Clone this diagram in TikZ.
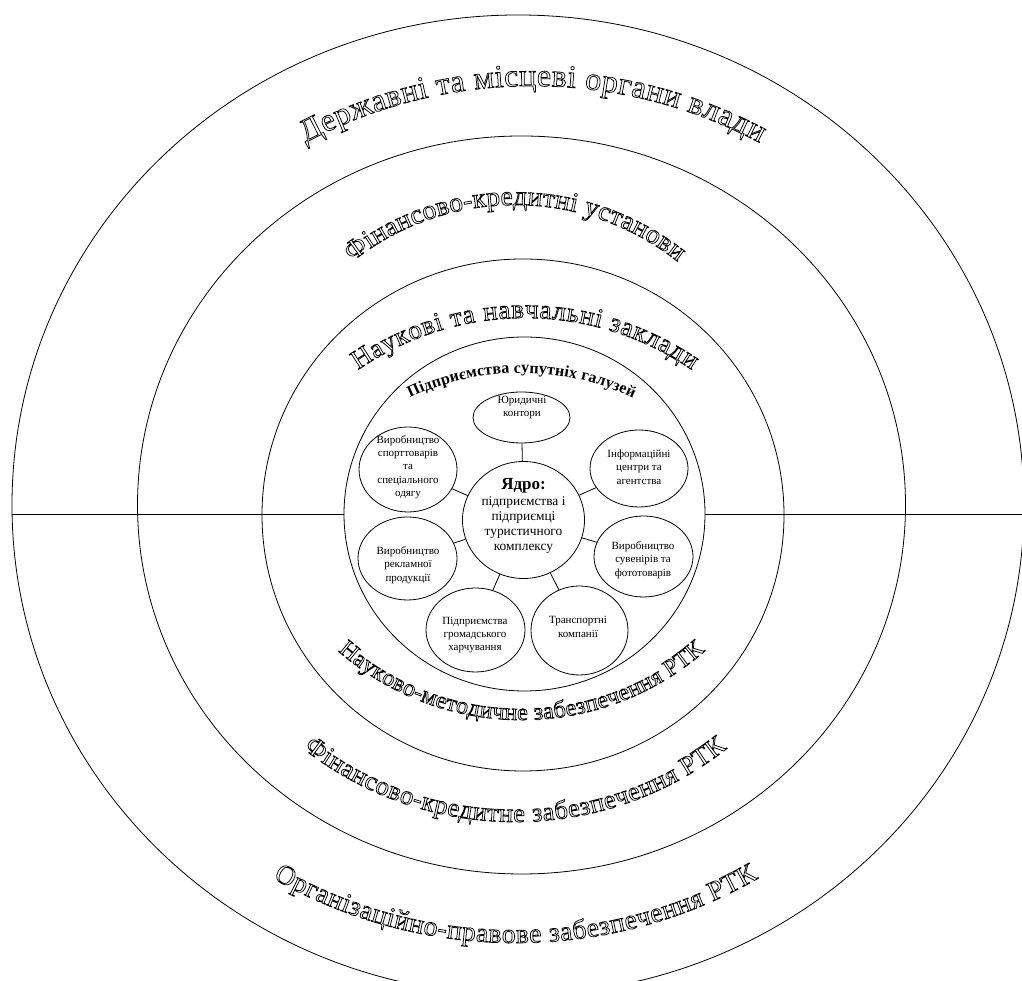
\documentclass[tikz,border=0pt]{standalone}
\usepackage{fontspec}
\setmainfont{Liberation Serif}
\newfontfamily\lserif{Liberation Serif}
\usetikzlibrary{decorations.text,shapes.geometric}

\newcommand\fA{\lserif\fontsize{32}{32}\selectfont}
\newcommand\fB{\lserif\fontsize{27.5}{27.5}\selectfont}
\newcommand\fC{\lserif\fontsize{27}{27}\selectfont}
\newcommand\fD{\lserif\bfseries\fontsize{16}{16}\selectfont}
\newcommand\fE{\lserif\fontsize{24}{24}\selectfont}
\newcommand\fF{\lserif\fontsize{26.5}{26.5}\selectfont}
\newcommand\fG{\lserif\fontsize{27.5}{27.5}\selectfont}
% stroke-only (outlined) glyphs
\newcommand\outlinetext{\special{pdf:literal direct 1 Tr 0.75 w}}

% outlined text along a circular arc: #1 cx, #2 cy, #3 r, #4 start, #5 end, #6 font, #7 text
\newcommand\ringlabel[7]{%
  \path[decorate,
    decoration={text along path,text={|#6\color{black}\outlinetext|#7},text align={fit to path}}]
    (#1,#2) ++(#4:#3) arc[start angle=#4,end angle=#5,radius=#3];
}

\tikzset{
  ring/.style={draw,line width=0.8pt},
  ell/.style={ellipse,draw,line width=0.8pt,inner sep=0pt},
  smalltxt/.style={font=\lserif\fontsize{11}{13.3}\selectfont,align=center,inner sep=0pt},
  coretxt/.style={font=\lserif\fontsize{13.4}{15}\selectfont,align=center,inner sep=0pt},
  conn/.style={line width=0.8pt},
}

\begin{document}
\begin{tikzpicture}[x=1pt,y=1pt]
\useasboundingbox (0,0) rectangle (1022,981);
\clip (0,0) rectangle (1022,981);
\fill[white] (0,0) rectangle (1022,981);

% rings
\draw[ring] (518,476) ellipse [x radius=506,y radius=490];
\draw[ring] (521.5,476) ellipse [x radius=384,y radius=369];
\draw[ring] (523,466) ellipse [x radius=261,y radius=256];
\node[ell,minimum width=361pt,minimum height=354pt] (ring4) at (524.5,467) {};

% horizontal divider
\coordinate (lw) at (12,466.5);
\coordinate (le) at (1022,466.5);
\draw[conn] (lw) -- (lw -| ring4.west);
\draw[conn] (le -| ring4.east) -- (le);

% inner nodes
\node[ell,minimum width=122pt,minimum height=117pt] (core) at (523.5,461) {};
\node[ell,minimum width=97pt,minimum height=51pt] (yur) at (521.5,563.5) {};
\node[ell,minimum width=98pt,minimum height=85pt] (sport) at (408,511.5) {};
\node[ell,minimum width=98pt,minimum height=77pt] (info) at (639,512.5) {};
\node[ell,minimum width=99pt,minimum height=83pt] (rekl) at (407.5,422.5) {};
\node[ell,minimum width=99pt,minimum height=81pt] (suv) at (643.5,424.5) {};
\node[ell,minimum width=99pt,minimum height=84pt] (harch) at (475.5,351) {};
\node[ell,minimum width=97pt,minimum height=89pt] (trans) at (579.5,350.5) {};

\foreach \n in {yur,sport,info,rekl,suv,harch,trans}{\draw[conn] (core) -- (\n);}

% texts
\node[coretxt] (coreT) at (523.5,465) {{\bfseries\fontsize{17}{19}\selectfont Ядро:}\\[1.5pt]підприємства і\\підприємці\\туристичного\\комплексу};
\node[smalltxt] (yurT) at (522,573.5) {Юридичні\\контори};
\node[smalltxt] (sportT) at (408,514) {Виробництво\\спорттоварів\\та\\спеціального\\одягу};
\node[smalltxt] (infoT) at (639,514) {Інформаційні\\центри та\\агентства};
\node[smalltxt] (reklT) at (408,416) {Виробництво\\рекламної\\продукції};
\node[smalltxt] (suvT) at (643,421) {Виробництво\\сувенірів та\\фототоварів};
\node[smalltxt] (harchT) at (475,346) {Підприємства\\громадського\\харчування};
\node[smalltxt] (transT) at (578,354) {Транспортні\\компанії};

\path[decorate,decoration={text along path,text={|\fD|Підприємства супутніх галузей},text align={fit to path}}]
  (521.5,347) ++(115.3:261) arc[start angle=115.3,end angle=64.7,radius=261];

% ring labels (top)
\ringlabel{532.5}{412.5}{482.5}{118.1}{61.9}{\fA}{Державні та місцеві органи влади}
\ringlabel{515}{514.4}{261.6}{128.5}{51.5}{\fB}{Фінансово-кредитні установи}
\ringlabel{525}{369}{294}{124.6}{55.4}{\fC}{Наукові та навчальні заклади}

% ring labels (bottom)
\ringlabel{521.5}{539.5}{278.5}{228.8}{311.2}{\fE}{Науково-методичне забезпечення РТК}
\ringlabel{515}{501.5}{342.5}{231.8}{308.2}{\fF}{Фінансово-кредитне забезпечення РТК}
\ringlabel{515.5}{526}{488}{240.2}{299.8}{\fG}{Організаційно-правове забезпечення РТК}
\end{tikzpicture}
\end{document}
